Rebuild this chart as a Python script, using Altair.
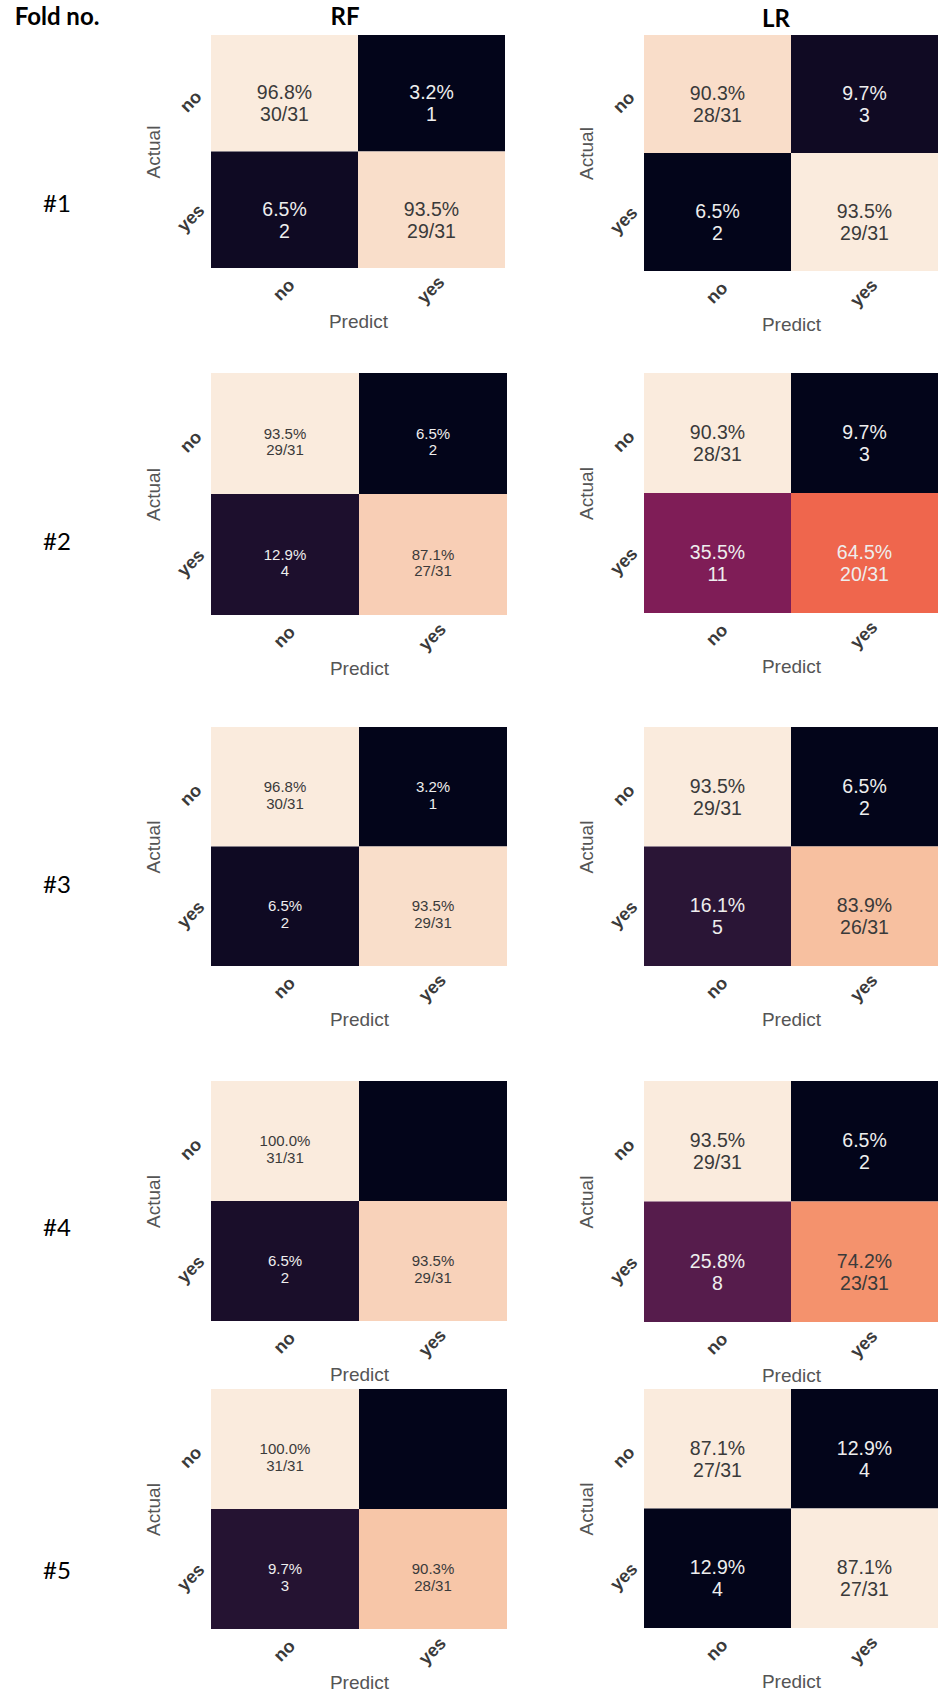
import altair as alt
import pandas as pd

# ---- data -----------------------------------------------------------------
FOLDS = ["#1", "#2", "#3", "#4", "#5"]
MODELS = ["RF", "LR"]
CLASSES = ["no", "yes"]
CORNER = "Fold no."

# confusion counts per fold: rows = actual (no, yes), cols = predicted (no, yes)
RF_COUNTS = [
    [[30, 1], [2, 29]],
    [[29, 2], [4, 27]],
    [[30, 1], [2, 29]],
    [[31, 0], [2, 29]],
    [[31, 0], [3, 28]],
]
LR_COUNTS = [
    [[28, 3], [2, 29]],
    [[28, 3], [11, 20]],
    [[29, 2], [5, 26]],
    [[29, 2], [8, 23]],
    [[27, 4], [4, 27]],
]

# ---- layout / style --------------------------------------------------------
ROCKET = ["#03051a", "#35193e", "#701f57", "#ad1759",
          "#e13342", "#f37651", "#f6b48f", "#faebdd"]

COL_GAP = 137
LABEL_COL_W = 74
HEADER_H = 35
HEADER_W = [LABEL_COL_W, 296, 294]
HEADER_DX = [57 - LABEL_COL_W / 2, 345 - 359, 776 - 791]
HEADER_DY = [0, 0, 2]

ROW_H = [338, 354, 354, 308, 270]
LABEL_Y = [170, 170, 159, 148, 183]
LABEL_X = 57

RF_W = [294, 296, 296, 296, 296]
RF_H = [233, 242, 239, 240, 240]
LR_W = [294, 294, 294, 294, 294]
LR_H = [236, 240, 239, 241, 239]
RF_FONT = [19.5, 15, 15, 15, 15]
LR_FONT = [19.5, 19.5, 19.5, 19.5, 19.5]

SANS = "Liberation Sans"
HEAD_FONT = "Lato"


def axis(title, orient):
    common = dict(
        title=title, labelAngle=-45, labelAlign="center", labelBaseline="middle",
        ticks=False, tickSize=0, domain=False, grid=False,
        labelFont=SANS, labelFontSize=18, labelFontWeight="bold", labelColor="#3a3a3a",
        titleFont=SANS, titleFontSize=19, titleColor="#555555",
        titleFontWeight="normal", minExtent=38, maxExtent=38,
    )
    if orient == "x":
        return alt.Axis(labelPadding=22, titlePadding=6, **common)
    return alt.Axis(labelPadding=20, labelOffset=9, titlePadding=10, **common)


def matrix(counts, w, h, fsize):
    rows = []
    for i, actual in enumerate(CLASSES):
        for j, pred in enumerate(CLASSES):
            rows.append({"actual": actual, "predict": pred, "count": counts[i][j]})
    df = pd.DataFrame(rows)

    base = (
        alt.Chart(df)
        .transform_joinaggregate(total="sum(count)", groupby=["actual"])
        .transform_joinaggregate(lo="min(count)", hi="max(count)")
        .transform_calculate(
            t="(datum.count - datum.lo) / (datum.hi - datum.lo)",
            pct="100 * datum.count / datum.total",
        )
        .transform_calculate(
            label="datum.count == 0 ? '' : format(datum.pct, '.1f') + '%\\n' + "
                  "(datum.actual == datum.predict ? datum.count + '/' + datum.total : '' + datum.count)"
        )
        .encode(
            x=alt.X("predict:N", sort=CLASSES,
                    scale=alt.Scale(paddingInner=0, paddingOuter=0), axis=axis("Predict", "x")),
            y=alt.Y("actual:N", sort=CLASSES,
                    scale=alt.Scale(paddingInner=0, paddingOuter=0), axis=axis("Actual", "y")),
        )
    )
    cells = base.mark_rect().encode(
        color=alt.Color("t:Q", legend=None,
                        scale=alt.Scale(domain=[0, 1], range=ROCKET, interpolate="rgb"))
    )
    notes = base.mark_text(
        font=SANS, fontSize=fsize, lineBreak="\n", lineHeight=fsize * 1.13,
        baseline="middle", align="center",
    ).encode(
        text="label:N",
        color=alt.condition("datum.t < 0.72", alt.value("#eeeeee"), alt.value("#3a3a3a")),
    )
    return alt.layer(cells, notes).properties(width=w, height=h)


def caption(text, w, h, size, weight, dx, dy):
    return (
        alt.Chart(pd.DataFrame({"text": [text]}))
        .mark_text(font=HEAD_FONT, fontSize=size, fontWeight=weight, color="#000000",
                   align="center", baseline="middle", dx=dx, dy=dy)
        .encode(text="text:N")
        .properties(width=w, height=h)
    )


panels = []
for k, txt in enumerate([CORNER] + MODELS):
    panels.append(caption(txt, HEADER_W[k], HEADER_H, 24, "bold", HEADER_DX[k], HEADER_DY[k]))

for r, fold in enumerate(FOLDS):
    panels.append(caption(fold, LABEL_COL_W, ROW_H[r], 24, "normal",
                          LABEL_X - LABEL_COL_W / 2, LABEL_Y[r] - ROW_H[r] / 2))
    panels.append(matrix(RF_COUNTS[r], RF_W[r], RF_H[r], RF_FONT[r]))
    panels.append(matrix(LR_COUNTS[r], LR_W[r], LR_H[r], LR_FONT[r]))

chart = (
    alt.concat(
        *panels,
        columns=3,
        spacing=alt.RowColnumber(row=0, column=COL_GAP),
        align="each",
        bounds="flush",
    )
    .properties(padding=0, background="white")
    .configure_view(stroke="transparent", fill="white")
)

chart.save("out.html", embed_options={"renderer": "svg", "actions": False})
